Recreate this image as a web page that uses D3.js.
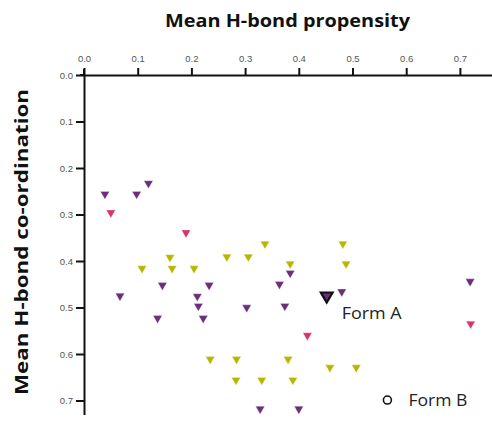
<!DOCTYPE html>
<html><head><meta charset="utf-8">
<script src="https://cdn.jsdelivr.net/npm/d3@7"></script>
<style>body{margin:0;background:#fff}svg{display:block}</style>
</head><body>
<script>
const xTicks=[0,0.1,0.2,0.3,0.4,0.5,0.6,0.7];
const yTicks=[0,0.1,0.2,0.3,0.4,0.5,0.6,0.7];
const purpleX=[0.039,0.098,0.120,0.067,0.146,0.233,0.211,0.213,0.222,0.137,0.384,0.364,0.303,0.374,0.480,0.719,0.328,0.400];
const purpleY=[0.256,0.256,0.233,0.475,0.452,0.452,0.476,0.497,0.523,0.523,0.426,0.450,0.500,0.497,0.466,0.444,0.718,0.718];
const pinkX=[0.050,0.190,0.416,0.720];
const pinkY=[0.296,0.339,0.560,0.535];
const oliveX=[0.160,0.108,0.164,0.205,0.266,0.306,0.337,0.384,0.482,0.488,0.235,0.284,0.380,0.458,0.507,0.283,0.331,0.389];
const oliveY=[0.392,0.416,0.416,0.416,0.391,0.391,0.363,0.406,0.363,0.406,0.611,0.611,0.611,0.629,0.629,0.656,0.656,0.656];
const formA=[0.452,0.475];
const formB=[0.565,0.699];
const labels=["Form A","Form B"];

const W=492,H=423;
const svg=d3.select("body").append("svg").attr("width",W).attr("height",H);
const x=d3.scaleLinear().domain([0,0.765]).range([84,84+0.765*537]);
const y=d3.scaleLinear().domain([0,0.73]).range([75,75+0.73*465]);

const tickFont="Liberation Sans, Arial, sans-serif";
const xAxis=svg.append("g").attr("transform","translate(0,75)")
  .call(d3.axisTop(x).tickValues(xTicks).tickFormat(d3.format(".1f")).tickSize(7).tickPadding(6).tickSizeOuter(0));
const yAxis=svg.append("g").attr("transform","translate(84,0)")
  .call(d3.axisLeft(y).tickValues(yTicks).tickFormat(d3.format(".1f")).tickSize(8).tickPadding(3).tickSizeOuter(0));
[xAxis,yAxis].forEach(g=>{
  g.select(".domain").attr("stroke","#111").attr("stroke-width",2);
  g.selectAll(".tick line").attr("stroke","#111").attr("stroke-width",2);
  g.selectAll(".tick text").attr("fill","#555").style("font-family",tickFont).style("font-size","9.5px");
});
svg.append("line").attr("x1",84).attr("x2",84).attr("y1",69).attr("y2",76).attr("stroke","#111").attr("stroke-width",2);
svg.append("line").attr("x1",80).attr("x2",84).attr("y1",75).attr("y2",75).attr("stroke","#111").attr("stroke-width",2);

svg.append("text").attr("x",287.5).attr("y",27).attr("text-anchor","middle")
  .attr("textLength",245).attr("lengthAdjust","spacingAndGlyphs")
  .style("font-family","Open Sans, sans-serif").style("font-weight","bold").style("font-size","18px").attr("fill","#111")
  .text("Mean H-bond propensity");
svg.append("text").attr("transform","translate(28,242) rotate(-90)").attr("text-anchor","middle")
  .attr("textLength",306).attr("lengthAdjust","spacingAndGlyphs")
  .style("font-family","Open Sans, sans-serif").style("font-weight","bold").style("font-size","18px").attr("fill","#111")
  .text("Mean H-bond co-ordination");

const tri=d3.symbol().type(d3.symbolTriangle).size(36);
function drawSeries(xs,ys,color){
  svg.append("g").selectAll("path").data(xs.map((v,i)=>[v,ys[i]])).join("path")
    .attr("d",tri).attr("transform",d=>`translate(${x(d[0])},${y(d[1])}) rotate(180)`)
    .attr("fill",color).attr("stroke","#fff").attr("stroke-opacity",0.5).attr("stroke-width",0.6);
}
drawSeries(purpleX,purpleY,"#6b2f7a");
drawSeries(pinkX,pinkY,"#d9336b");
drawSeries(oliveX,oliveY,"#b6b800");

svg.append("path").attr("d",d3.symbol().type(d3.symbolTriangle).size(60))
  .attr("transform",`translate(${x(formA[0])},${y(formA[1])}) rotate(180)`)
  .attr("fill","#6b2f7a").attr("stroke","#111").attr("stroke-width",2.2);
svg.append("circle").attr("cx",x(formB[0])).attr("cy",y(formB[1])).attr("r",4)
  .attr("fill","#fff").attr("stroke","#111").attr("stroke-width",1.6);

svg.append("text").attr("x",x(formA[0])+15).attr("y",y(formA[1])+23)
  .attr("textLength",60).attr("lengthAdjust","spacingAndGlyphs")
  .style("font-family","Open Sans, sans-serif").style("font-size","17px").attr("fill","#222").text(labels[0]);
svg.append("text").attr("x",x(formB[0])+21).attr("y",y(formB[1])+6)
  .attr("textLength",59).attr("lengthAdjust","spacingAndGlyphs")
  .style("font-family","Open Sans, sans-serif").style("font-size","17px").attr("fill","#222").text(labels[1]);
</script>
</body></html>
